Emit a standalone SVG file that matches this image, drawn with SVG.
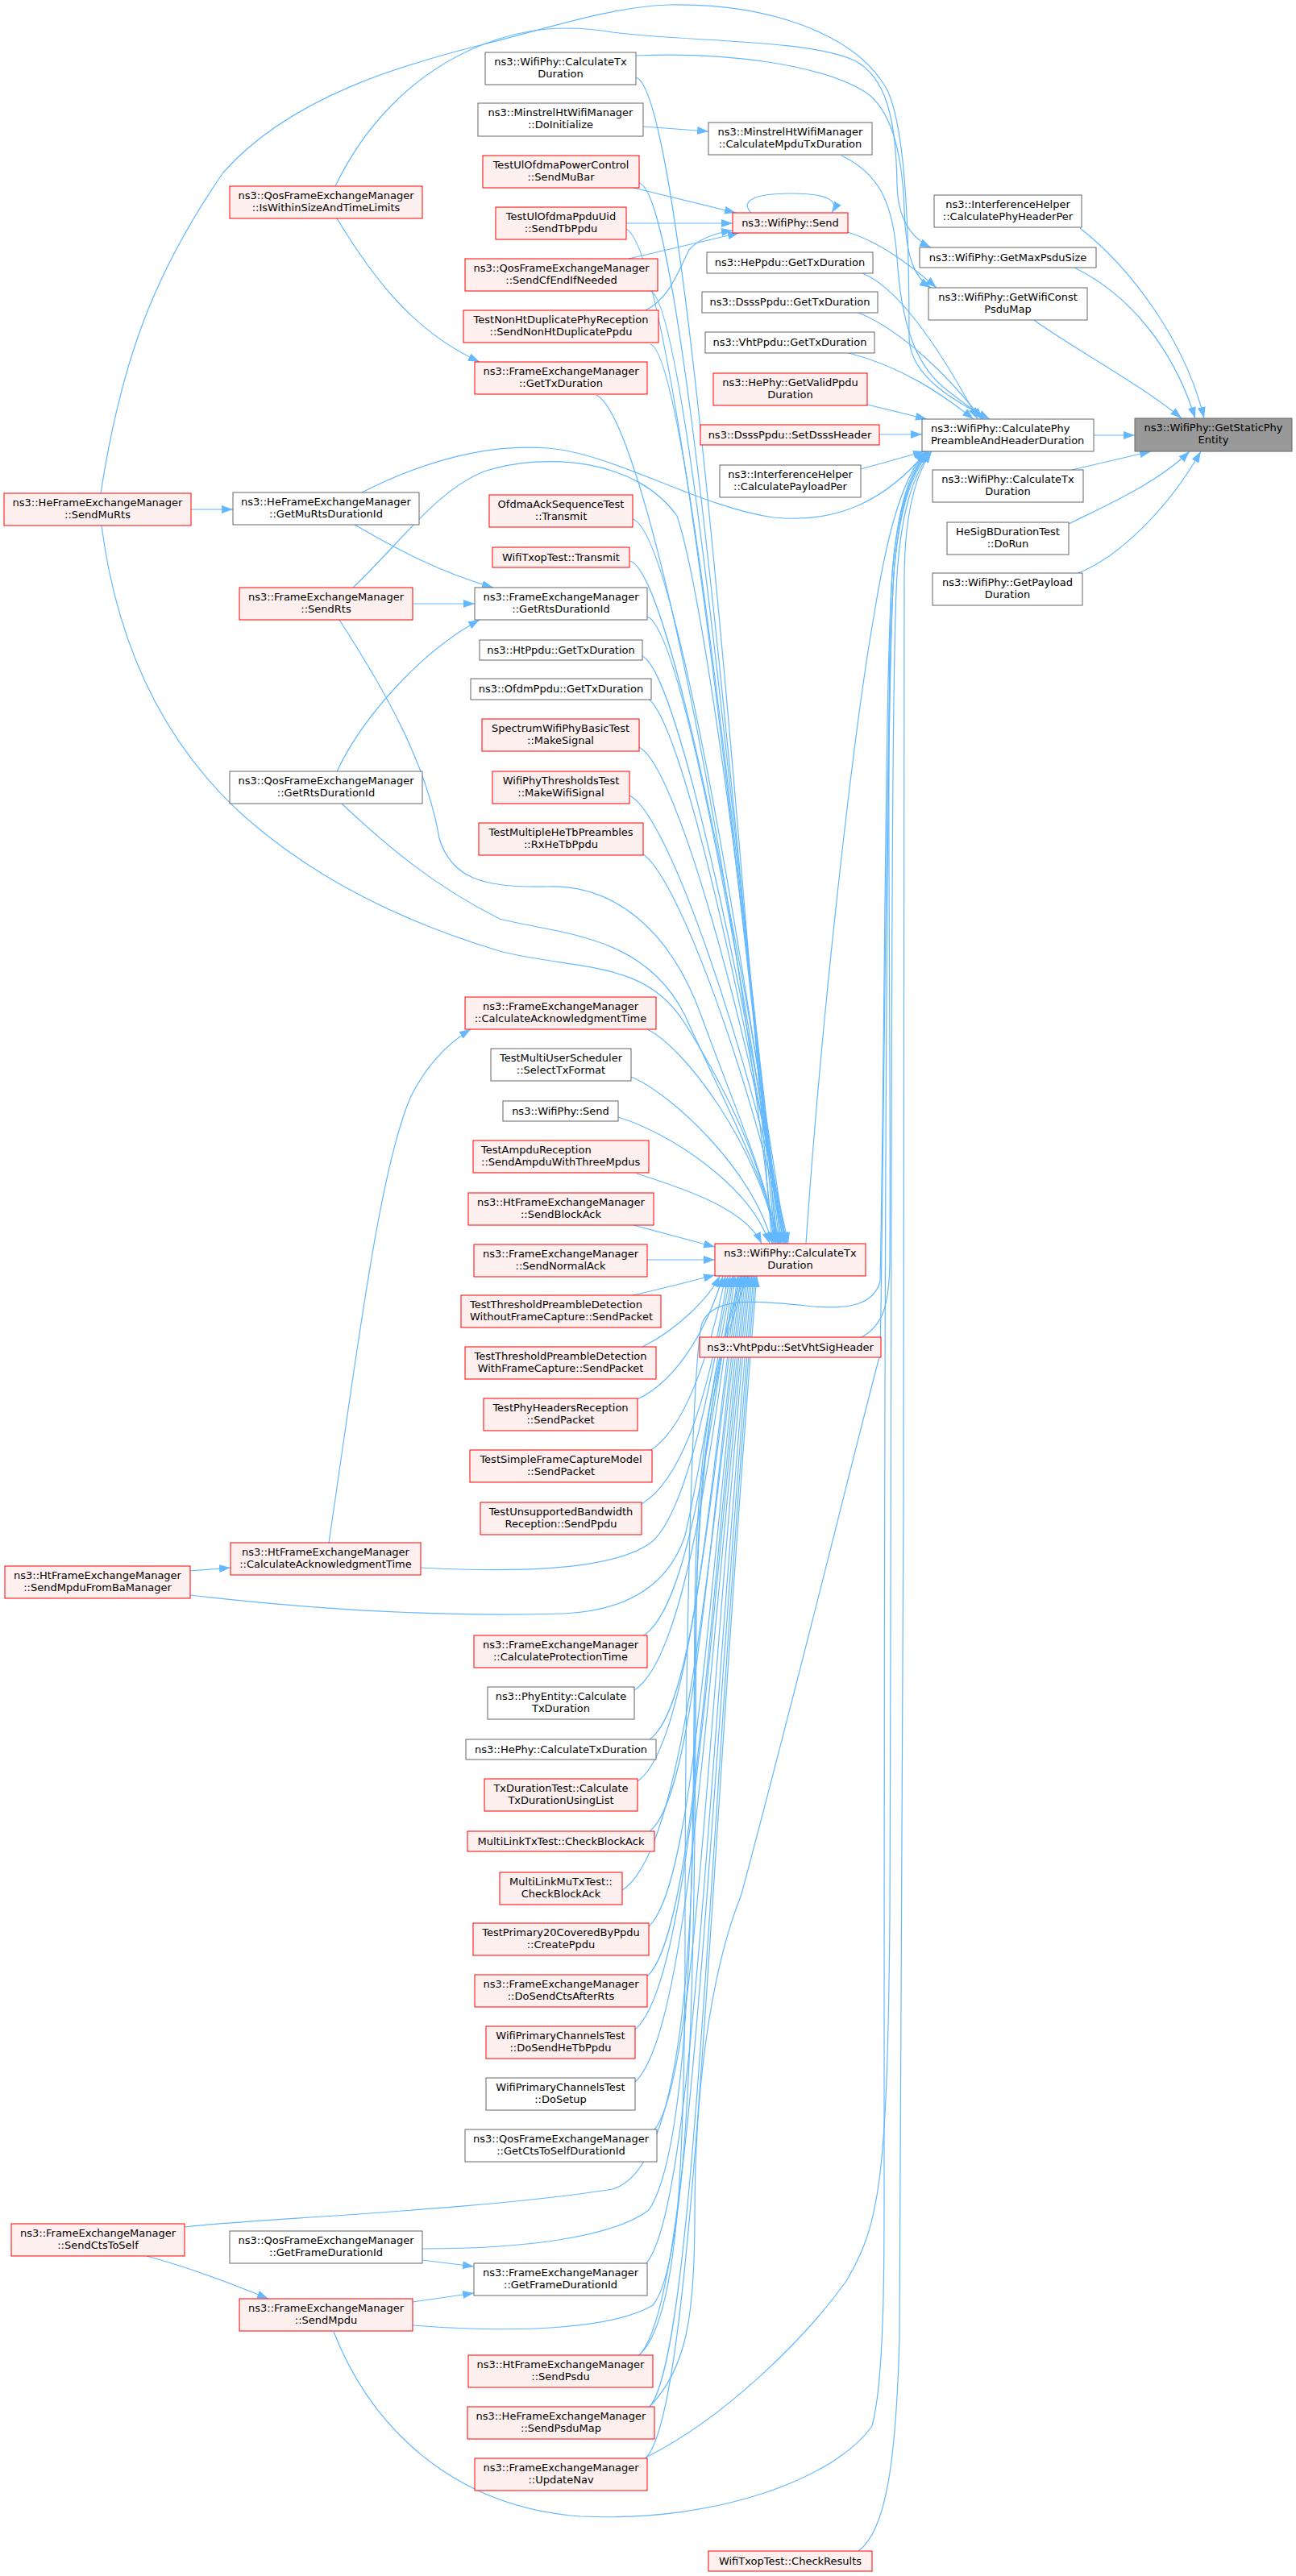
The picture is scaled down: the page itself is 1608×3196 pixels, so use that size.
<svg xmlns="http://www.w3.org/2000/svg" width="1608" height="3196" viewBox="0 0 1608 3196">
<defs>
<marker id="a" markerUnits="userSpaceOnUse" markerWidth="14" markerHeight="10" refX="14" refY="5" orient="auto"><path d="M0,0 L14,5 L0,10 z" fill="#63b8ff"/></marker>
<style>
.n{fill:#fff;stroke:#666;stroke-width:1}
.r{fill:#fff0f0;stroke:#f00;stroke-width:1}
.t{fill:#999;stroke:#666;stroke-width:1}
text{font-family:"DejaVu Sans","Liberation Sans",sans-serif;font-size:13px;fill:#000;text-anchor:middle}
text.l{text-anchor:start}
#edges path{fill:none;stroke:#63b8ff;stroke-width:1.2;marker-end:url(#a)}
</style>
</defs>
<rect width="1608" height="3196" fill="#fff"/>
<g id="edges">
<path d="M1340,283 C1400,330 1470,420 1494,519"/>
<path d="M1333,332 C1400,365 1455,430 1483,519"/>
<path d="M1283,397 C1320,425 1420,480 1466,519"/>
<path d="M1357,540 L1408,540"/>
<path d="M1330,583 L1428,560"/>
<path d="M1326,650 C1370,628 1435,600 1476,560"/>
<path d="M1338,711 C1390,690 1450,630 1490,560"/>
<path d="M1070,339 C1110,355 1160,420 1213,520"/>
<path d="M1065,388 C1120,410 1180,470 1218,520"/>
<path d="M1053,438 C1120,455 1170,490 1208,520"/>
<path d="M1076,502 L1150,520"/>
<path d="M1091,539 L1144,539"/>
<path d="M1068,582 L1147,560"/>
<path d="M1044,193 C1090,215 1108,250 1113,320 C1118,400 1135,450 1170,480 C1195,500 1210,510 1220,520"/>
<path d="M125,612 C150,450 190,340 277,214 C360,120 500,80 600,55 C680,35 760,8 830,6 C950,4 1060,40 1100,110 C1125,160 1128,300 1128,420 C1130,470 1190,500 1228,520"/>
<path d="M449,611 C520,575 600,550 680,556 C760,562 870,630 960,642 C1040,650 1100,620 1150,560"/>
<path d="M1000,1543 C1020,1250 1060,900 1085,760 C1098,680 1115,600 1148,560"/>
<path d="M1069,1659 C1095,1645 1104,1620 1104,1560 C1106,1300 1098,800 1108,700 C1115,630 1128,590 1152,560"/>
<path d="M1065,3165 C1100,3140 1112,3050 1116,2900 C1122,2400 1122,900 1122,720 C1122,640 1135,590 1156,560"/>
<path d="M414,2893 C460,3010 560,3110 720,3122 C900,3130 1040,3070 1082,3010 C1098,2950 1097,2800 1097,2700 C1097,1500 1100,800 1110,700 C1117,630 1130,590 1153,560"/>
<path d="M801,3049 C900,3000 1000,2900 1050,2830 C1092,2760 1101,2700 1104,2380 C1107,1600 1104,800 1114,700 C1120,630 1133,590 1155,560"/>
<path d="M806,2986 C850,2940 862,2880 862,2750 C862,2600 880,2450 920,2350 C1000,2050 1060,1800 1092,1680 C1096,1500 1100,800 1110,700 C1117,630 1128,590 1150,560"/>
<path d="M793,2922 C840,2880 850,2700 850,2400 C850,2000 860,1700 870,1645 C880,1610 930,1612 1000,1620 C1060,1627 1085,1615 1092,1590 C1098,1300 1098,800 1108,700 C1115,630 1126,590 1149,560"/>
<path d="M416,231 C450,160 510,90 600,55 C650,35 700,30 760,40 C850,52 1000,48 1060,75 C1100,95 1112,150 1113,230 C1114,270 1130,295 1155,307"/>
<path d="M789,69 C900,64 1020,80 1075,115 C1110,140 1120,200 1122,260 C1124,320 1135,345 1155,357"/>
<path d="M1052,288 C1090,300 1125,325 1162,357"/>
<path d="M786,233 L913,264"/>
<path d="M777,277 L909,277"/>
<path d="M780,321 L917,289"/>
<path d="M801,385 C830,370 840,340 855,310 C868,295 888,289 909,286"/>
<path d="M932,264 C918,250 935,240 980,240 C1025,240 1042,248 1032,264"/>
<path d="M798,157 L879,163"/>
<path d="M237,632 L289,632"/>
<path d="M440,651 C490,680 545,710 612,729"/>
<path d="M512,749 L589,749"/>
<path d="M418,957 C450,890 520,810 595,769"/>
<path d="M418,271 C460,340 510,410 595,449"/>
<path d="M408,1914 C440,1700 470,1450 510,1360 C530,1320 555,1295 584,1277"/>
<path d="M236,1949 L286,1945"/>
<path d="M182,2799 C230,2812 280,2830 333,2852"/>
<path d="M524,2804 L588,2812"/>
<path d="M512,2856 L588,2845"/>
<path d="M789,96 C844,111 905,892 958,1543"/>
<path d="M793,227 C845,240 905,951 962,1543"/>
<path d="M776,284 C830,300 905,976 965,1543"/>
<path d="M807,361 C850,375 908,1011 967,1543"/>
<path d="M807,427 C850,440 910,1041 969,1543"/>
<path d="M740,490 C800,520 910,1069 960,1543"/>
<path d="M785,644 C835,660 915,1138 972,1543"/>
<path d="M782,696 C830,712 918,1162 975,1543"/>
<path d="M803,765 C845,780 920,1193 970,1543"/>
<path d="M797,814 C840,835 922,1220 974,1543"/>
<path d="M803,866 C845,890 925,1250 972,1543"/>
<path d="M793,927 C840,950 928,1276 976,1543"/>
<path d="M781,987 C830,1010 930,1310 978,1543"/>
<path d="M795,1058 C840,1080 935,1350 975,1543"/>
<path d="M803,1277 C850,1300 940,1420 965,1543"/>
<path d="M783,1336 C830,1355 935,1450 958,1543"/>
<path d="M767,1386 C830,1405 930,1470 955,1543"/>
<path d="M790,1456 C850,1475 925,1500 945,1543"/>
<path d="M786,1520 L887,1547"/>
<path d="M803,1563 L887,1563"/>
<path d="M126,652 C140,760 180,900 300,1010 C400,1100 520,1150 620,1180 C720,1205 800,1190 850,1270 C900,1350 950,1450 962,1543"/>
<path d="M421,769 C480,860 530,950 545,1040 C560,1090 600,1102 680,1100 C760,1098 830,1150 870,1260 C910,1370 950,1460 966,1543"/>
<path d="M438,729 C500,670 540,610 600,585 C680,560 790,570 840,640 C880,760 945,1300 963,1543"/>
<path d="M424,997 C480,1050 540,1100 620,1140 C700,1160 800,1160 850,1260 C890,1350 945,1450 968,1543"/>
<path d="M785,1607 C825,1598 855,1590 887,1582"/>
<path d="M797,1671 C840,1650 880,1610 893,1583"/>
<path d="M791,1736 C845,1710 880,1640 897,1583"/>
<path d="M806,1800 C855,1770 885,1660 900,1583"/>
<path d="M796,1866 C855,1830 885,1700 903,1583"/>
<path d="M522,1945 C620,1950 760,1952 810,1912 C855,1870 885,1700 906,1583"/>
<path d="M236,1979 C400,1998 560,2006 700,2002 C780,1998 830,1965 850,1905 C870,1820 890,1680 909,1583"/>
<path d="M797,2030 C850,2000 878,1806 910,1583"/>
<path d="M787,2097 C845,2060 878,1840 912,1583"/>
<path d="M806,2158 C860,2120 878,1870 915,1583"/>
<path d="M791,2210 C850,2170 878,1896 917,1583"/>
<path d="M806,2272 C860,2230 878,1927 919,1583"/>
<path d="M772,2345 C845,2300 878,1964 921,1583"/>
<path d="M805,2390 C860,2340 878,1986 923,1583"/>
<path d="M803,2452 C860,2400 878,2017 925,1583"/>
<path d="M788,2518 C855,2460 878,2050 927,1583"/>
<path d="M788,2583 C855,2520 878,2083 929,1583"/>
<path d="M812,2642 C865,2580 878,2112 931,1583"/>
<path d="M228,2763 C300,2754 600,2742 760,2716 C850,2690 862,2400 862,2100 C862,1800 895,1660 920,1583"/>
<path d="M524,2790 C650,2790 760,2776 805,2742 C860,2660 860,2300 862,2000 C864,1750 900,1650 924,1583"/>
<path d="M800,2810 C860,2750 878,2196 933,1583"/>
<path d="M512,2885 C640,2895 760,2890 810,2860 C860,2800 862,2400 864,2000 C866,1750 905,1640 928,1583"/>
<path d="M793,2922 C858,2860 878,2252 935,1583"/>
<path d="M806,2986 C862,2920 878,2284 937,1583"/>
<path d="M801,3050 C862,2990 878,2316 939,1583"/>
</g>
<g id="target"><rect class="t" x="1408" y="519" width="195" height="41"/><text x="1505.5" y="535">ns3::WifiPhy::GetStaticPhy</text><text x="1505.5" y="549.5">Entity</text></g>
<g id="R1"><rect class="n" x="1159" y="242" width="183" height="40"/><text x="1250.5" y="258">ns3::InterferenceHelper</text><text x="1250.5" y="272.5">::CalculatePhyHeaderPer</text></g>
<g id="R2"><rect class="n" x="1141" y="307" width="219" height="25"/><text x="1250.5" y="323.5">ns3::WifiPhy::GetMaxPsduSize</text></g>
<g id="R3"><rect class="n" x="1152" y="357" width="197" height="40"/><text x="1250.5" y="373">ns3::WifiPhy::GetWifiConst</text><text x="1250.5" y="387.5">PsduMap</text></g>
<g id="R4"><rect class="n" x="1144" y="520" width="213" height="40"/><text class="l" x="1155" y="536">ns3::WifiPhy::CalculatePhy</text><text class="l" x="1155" y="550.5">PreambleAndHeaderDuration</text></g>
<g id="R5"><rect class="n" x="1157" y="583" width="187" height="40"/><text x="1250.5" y="599">ns3::WifiPhy::CalculateTx</text><text x="1250.5" y="613.5">Duration</text></g>
<g id="R6"><rect class="n" x="1175" y="648" width="151" height="40"/><text x="1250.5" y="664">HeSigBDurationTest</text><text x="1250.5" y="678.5">::DoRun</text></g>
<g id="R7"><rect class="n" x="1157" y="711" width="186" height="40"/><text x="1250" y="727">ns3::WifiPhy::GetPayload</text><text x="1250" y="741.5">Duration</text></g>
<g id="M1"><rect class="n" x="879" y="152" width="203" height="40"/><text x="980.5" y="168">ns3::MinstrelHtWifiManager</text><text x="980.5" y="182.5">::CalculateMpduTxDuration</text></g>
<g id="M2"><rect class="r" x="909" y="264" width="143" height="25"/><text x="980.5" y="280.5">ns3::WifiPhy::Send</text></g>
<g id="M3"><rect class="n" x="877" y="313" width="206" height="26"/><text x="980" y="330">ns3::HePpdu::GetTxDuration</text></g>
<g id="M4"><rect class="n" x="871" y="362" width="218" height="26"/><text x="980" y="379">ns3::DsssPpdu::GetTxDuration</text></g>
<g id="M5"><rect class="n" x="875" y="412" width="210" height="26"/><text x="980" y="429">ns3::VhtPpdu::GetTxDuration</text></g>
<g id="M6"><rect class="r" x="885" y="463" width="191" height="40"/><text x="980.5" y="479">ns3::HePhy::GetValidPpdu</text><text x="980.5" y="493.5">Duration</text></g>
<g id="M7"><rect class="r" x="869" y="527" width="222" height="25"/><text x="980" y="543.5">ns3::DsssPpdu::SetDsssHeader</text></g>
<g id="M8"><rect class="n" x="893" y="577" width="175" height="40"/><text x="980.5" y="593">ns3::InterferenceHelper</text><text x="980.5" y="607.5">::CalculatePayloadPer</text></g>
<g id="H"><rect class="r" x="887" y="1543" width="187" height="40"/><text x="980.5" y="1559">ns3::WifiPhy::CalculateTx</text><text x="980.5" y="1573.5">Duration</text></g>
<g id="M9"><rect class="r" x="868" y="1659" width="225" height="25"/><text x="980.5" y="1675.5">ns3::VhtPpdu::SetVhtSigHeader</text></g>
<g id="M10"><rect class="r" x="879" y="3165" width="203" height="25"/><text x="980.5" y="3181.5">WifiTxopTest::CheckResults</text></g>
<g id="L1"><rect class="n" x="602" y="65" width="187" height="40"/><text x="695.5" y="81">ns3::WifiPhy::CalculateTx</text><text x="695.5" y="95.5">Duration</text></g>
<g id="L2"><rect class="n" x="593" y="128" width="205" height="41"/><text x="695.5" y="144">ns3::MinstrelHtWifiManager</text><text x="695.5" y="158.5">::DoInitialize</text></g>
<g id="L3"><rect class="r" x="599" y="193" width="194" height="40"/><text x="696" y="209">TestUlOfdmaPowerControl</text><text x="696" y="223.5">::SendMuBar</text></g>
<g id="L4"><rect class="r" x="615" y="257" width="162" height="40"/><text x="696" y="273">TestUlOfdmaPpduUid</text><text x="696" y="287.5">::SendTbPpdu</text></g>
<g id="L5"><rect class="r" x="577" y="321" width="239" height="40"/><text x="696.5" y="337">ns3::QosFrameExchangeManager</text><text x="696.5" y="351.5">::SendCfEndIfNeeded</text></g>
<g id="L6"><rect class="r" x="575" y="385" width="242" height="40"/><text x="696" y="401">TestNonHtDuplicatePhyReception</text><text x="696" y="415.5">::SendNonHtDuplicatePpdu</text></g>
<g id="L7"><rect class="r" x="589" y="449" width="214" height="40"/><text x="696" y="465">ns3::FrameExchangeManager</text><text x="696" y="479.5">::GetTxDuration</text></g>
<g id="L8"><rect class="r" x="607" y="614" width="178" height="40"/><text x="696" y="630">OfdmaAckSequenceTest</text><text x="696" y="644.5">::Transmit</text></g>
<g id="L9"><rect class="r" x="611" y="679" width="170" height="25"/><text x="696" y="695.5">WifiTxopTest::Transmit</text></g>
<g id="L10"><rect class="n" x="589" y="729" width="214" height="40"/><text x="696" y="745">ns3::FrameExchangeManager</text><text x="696" y="759.5">::GetRtsDurationId</text></g>
<g id="L11"><rect class="n" x="595" y="794" width="202" height="25"/><text x="696" y="810.5">ns3::HtPpdu::GetTxDuration</text></g>
<g id="L12"><rect class="n" x="584" y="842" width="224" height="26"/><text x="696" y="859">ns3::OfdmPpdu::GetTxDuration</text></g>
<g id="L13"><rect class="r" x="598" y="892" width="195" height="40"/><text x="695.5" y="908">SpectrumWifiPhyBasicTest</text><text x="695.5" y="922.5">::MakeSignal</text></g>
<g id="L14"><rect class="r" x="611" y="957" width="170" height="40"/><text x="696" y="973">WifiPhyThresholdsTest</text><text x="696" y="987.5">::MakeWifiSignal</text></g>
<g id="L15"><rect class="r" x="594" y="1021" width="204" height="40"/><text x="696" y="1037">TestMultipleHeTbPreambles</text><text x="696" y="1051.5">::RxHeTbPpdu</text></g>
<g id="L16"><rect class="r" x="577" y="1237" width="237" height="40"/><text x="695.5" y="1253">ns3::FrameExchangeManager</text><text x="695.5" y="1267.5">::CalculateAcknowledgmentTime</text></g>
<g id="L17"><rect class="n" x="609" y="1301" width="174" height="40"/><text x="696" y="1317">TestMultiUserScheduler</text><text x="696" y="1331.5">::SelectTxFormat</text></g>
<g id="L18"><rect class="n" x="624" y="1366" width="143" height="25"/><text x="695.5" y="1382.5">ns3::WifiPhy::Send</text></g>
<g id="L19"><rect class="r" x="587" y="1415" width="218" height="40"/><text class="l" x="597" y="1431">TestAmpduReception</text><text class="l" x="597" y="1445.5">::SendAmpduWithThreeMpdus</text></g>
<g id="L20"><rect class="r" x="581" y="1480" width="230" height="40"/><text x="696" y="1496">ns3::HtFrameExchangeManager</text><text x="696" y="1510.5">::SendBlockAck</text></g>
<g id="L21"><rect class="r" x="588" y="1544" width="215" height="40"/><text x="695.5" y="1560">ns3::FrameExchangeManager</text><text x="695.5" y="1574.5">::SendNormalAck</text></g>
<g id="L22"><rect class="r" x="572" y="1607" width="248" height="40"/><text class="l" x="583" y="1623">TestThresholdPreambleDetection</text><text class="l" x="583" y="1637.5">WithoutFrameCapture::SendPacket</text></g>
<g id="L23"><rect class="r" x="577" y="1671" width="237" height="40"/><text x="695.5" y="1687">TestThresholdPreambleDetection</text><text x="695.5" y="1701.5">WithFrameCapture::SendPacket</text></g>
<g id="L24"><rect class="r" x="600" y="1735" width="191" height="40"/><text x="695.5" y="1751">TestPhyHeadersReception</text><text x="695.5" y="1765.5">::SendPacket</text></g>
<g id="L25"><rect class="r" x="583" y="1799" width="226" height="40"/><text x="696" y="1815">TestSimpleFrameCaptureModel</text><text x="696" y="1829.5">::SendPacket</text></g>
<g id="L26"><rect class="r" x="596" y="1864" width="200" height="40"/><text x="696" y="1880">TestUnsupportedBandwidth</text><text x="696" y="1894.5">Reception::SendPpdu</text></g>
<g id="L27"><rect class="r" x="588" y="2029" width="215" height="40"/><text x="695.5" y="2045">ns3::FrameExchangeManager</text><text x="695.5" y="2059.5">::CalculateProtectionTime</text></g>
<g id="L28"><rect class="n" x="605" y="2093" width="182" height="40"/><text x="696" y="2109">ns3::PhyEntity::Calculate</text><text x="696" y="2123.5">TxDuration</text></g>
<g id="L29"><rect class="n" x="578" y="2158" width="236" height="25"/><text x="696" y="2174.5">ns3::HePhy::CalculateTxDuration</text></g>
<g id="L30"><rect class="r" x="601" y="2207" width="190" height="40"/><text x="696" y="2223">TxDurationTest::Calculate</text><text x="696" y="2237.5">TxDurationUsingList</text></g>
<g id="L31"><rect class="r" x="580" y="2272" width="232" height="25"/><text x="696" y="2288.5">MultiLinkTxTest::CheckBlockAck</text></g>
<g id="L32"><rect class="r" x="620" y="2323" width="152" height="40"/><text x="696" y="2339">MultiLinkMuTxTest::</text><text x="696" y="2353.5">CheckBlockAck</text></g>
<g id="L33"><rect class="r" x="587" y="2386" width="218" height="40"/><text x="696" y="2402">TestPrimary20CoveredByPpdu</text><text x="696" y="2416.5">::CreatePpdu</text></g>
<g id="L34"><rect class="r" x="589" y="2450" width="214" height="40"/><text x="696" y="2466">ns3::FrameExchangeManager</text><text x="696" y="2480.5">::DoSendCtsAfterRts</text></g>
<g id="L35"><rect class="r" x="603" y="2514" width="185" height="40"/><text x="695.5" y="2530">WifiPrimaryChannelsTest</text><text x="695.5" y="2544.5">::DoSendHeTbPpdu</text></g>
<g id="L36"><rect class="n" x="603" y="2578" width="185" height="40"/><text x="695.5" y="2594">WifiPrimaryChannelsTest</text><text x="695.5" y="2608.5">::DoSetup</text></g>
<g id="L37"><rect class="n" x="577" y="2642" width="238" height="40"/><text x="696" y="2658">ns3::QosFrameExchangeManager</text><text x="696" y="2672.5">::GetCtsToSelfDurationId</text></g>
<g id="L38"><rect class="n" x="588" y="2808" width="215" height="40"/><text x="695.5" y="2824">ns3::FrameExchangeManager</text><text x="695.5" y="2838.5">::GetFrameDurationId</text></g>
<g id="L39"><rect class="r" x="581" y="2922" width="229" height="40"/><text x="695.5" y="2938">ns3::HtFrameExchangeManager</text><text x="695.5" y="2952.5">::SendPsdu</text></g>
<g id="L40"><rect class="r" x="580" y="2986" width="232" height="40"/><text x="696" y="3002">ns3::HeFrameExchangeManager</text><text x="696" y="3016.5">::SendPsduMap</text></g>
<g id="L41"><rect class="r" x="589" y="3050" width="214" height="40"/><text x="696" y="3066">ns3::FrameExchangeManager</text><text x="696" y="3080.5">::UpdateNav</text></g>
<g id="K1"><rect class="r" x="285" y="231" width="239" height="40"/><text x="404.5" y="247">ns3::QosFrameExchangeManager</text><text x="404.5" y="261.5">::IsWithinSizeAndTimeLimits</text></g>
<g id="K2"><rect class="n" x="289" y="611" width="231" height="40"/><text x="404.5" y="627">ns3::HeFrameExchangeManager</text><text x="404.5" y="641.5">::GetMuRtsDurationId</text></g>
<g id="K3"><rect class="r" x="297" y="729" width="215" height="40"/><text x="404.5" y="745">ns3::FrameExchangeManager</text><text x="404.5" y="759.5">::SendRts</text></g>
<g id="K4"><rect class="n" x="285" y="957" width="239" height="40"/><text x="404.5" y="973">ns3::QosFrameExchangeManager</text><text x="404.5" y="987.5">::GetRtsDurationId</text></g>
<g id="K5"><rect class="r" x="286" y="1914" width="236" height="40"/><text x="404" y="1930">ns3::HtFrameExchangeManager</text><text x="404" y="1944.5">::CalculateAcknowledgmentTime</text></g>
<g id="K6"><rect class="n" x="285" y="2768" width="239" height="40"/><text x="404.5" y="2784">ns3::QosFrameExchangeManager</text><text x="404.5" y="2798.5">::GetFrameDurationId</text></g>
<g id="K7"><rect class="r" x="297" y="2852" width="215" height="40"/><text x="404.5" y="2868">ns3::FrameExchangeManager</text><text x="404.5" y="2882.5">::SendMpdu</text></g>
<g id="E1"><rect class="r" x="5" y="612" width="232" height="40"/><text x="121" y="628">ns3::HeFrameExchangeManager</text><text x="121" y="642.5">::SendMuRts</text></g>
<g id="E2"><rect class="r" x="6" y="1943" width="230" height="40"/><text x="121" y="1959">ns3::HtFrameExchangeManager</text><text x="121" y="1973.5">::SendMpduFromBaManager</text></g>
<g id="E3"><rect class="r" x="14" y="2759" width="215" height="40"/><text x="121.5" y="2775">ns3::FrameExchangeManager</text><text x="121.5" y="2789.5">::SendCtsToSelf</text></g>
</svg>
